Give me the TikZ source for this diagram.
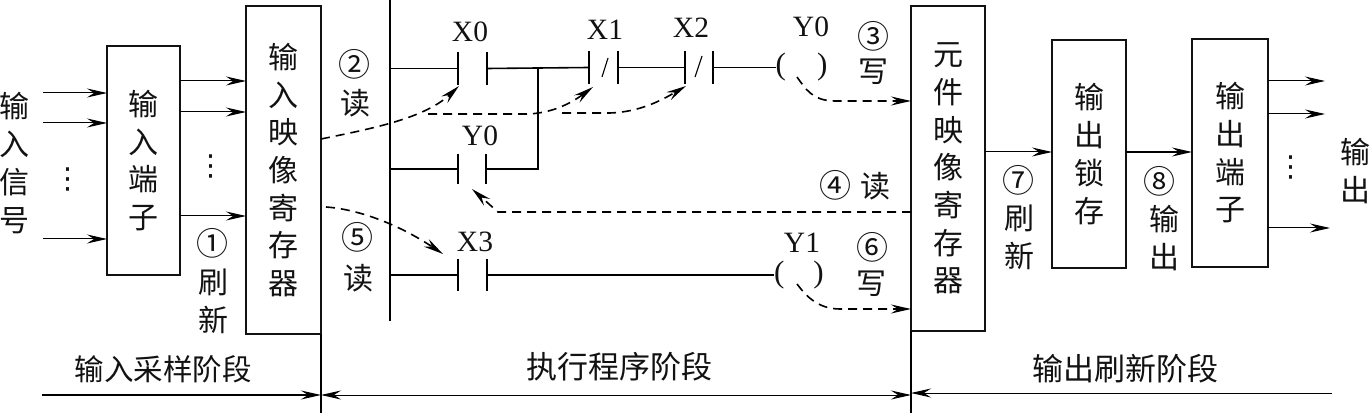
\documentclass[tikz,border=0pt]{standalone}
\usepackage{fontspec}
\setmainfont{Liberation Serif}
\newfontfamily\cjk{Noto Sans CJK SC}
\newfontfamily\circf{DejaVu Sans}
\usetikzlibrary{arrows.meta}
\tikzset{
  every node/.style={inner sep=0pt,outer sep=0pt,text=ink},
  regbox/.style={draw=ink,line width=1.7pt,fill=white,align=center,font=\cjk\fontsize{30}{37.7}\selectfont},
  vtext/.style={align=center,font=\cjk\fontsize{30}{38}\selectfont},
  phase/.style={font=\cjk\fontsize{29.5}{30}\selectfont},
  phasew/.style={font=\cjk\fontsize{31}{32}\selectfont},
  circnum/.style={font=\cjk\fontsize{32}{32}\selectfont},
  lbl/.style={font=\fontsize{29.5}{30}\selectfont},
  dotcol/.style={font=\circf\fontsize{29}{29}\selectfont},
  coil/.style={font=\fontsize{31}{32}\selectfont},
  head/.style={-{Stealth[length=20pt,width=9pt,inset=7pt]}},
  sig/.style={head,line width=1pt},
  sigb/.style={head,line width=1.5pt},
  wire/.style={line width=1.6pt},
  plate/.style={line width=1.6pt},
  flow/.style={head,line width=1.6pt,dash pattern=on 9pt off 6pt},
  rule/.style={line width=1.7pt},
}
\definecolor{ink}{gray}{0.07}
\begin{document}
\begin{tikzpicture}[x=1pt,y=-1pt]
\useasboundingbox[fill=white] (0,0) rectangle (1371,414);
% boxes
\node[regbox,minimum width=73pt,minimum height=229pt] (inport) at (143.5,160.5) {输\\入\\端\\子};
\node[regbox,minimum width=75pt,minimum height=328pt] (inreg) at (283.5,170) {输\\入\\映\\像\\寄\\存\\器};
\node[regbox,minimum width=74pt,minimum height=325pt] (outreg) at (948,168.5) {元\\件\\映\\像\\寄\\存\\器};
\node[regbox,minimum width=74pt,minimum height=228pt] (latch) at (1089,154) {输\\出\\锁\\存};
\node[regbox,minimum width=76pt,minimum height=228pt] (outport) at (1230,153) {输\\出\\端\\子};
% free text
\node[vtext] (insig) at (14,163) {输\\入\\信\\号};
\node[vtext] (outsig) at (1355,171) {输\\出};
\node[dotcol] (d1) at (68,179) {⋮};
\node[dotcol] (d2) at (211,166) {⋮};
\node[dotcol] (d3) at (1291,167) {⋮};
% input arrows
\foreach \n/\y in {a/93,b/123,c/239}{
  \coordinate (i\n) at (43,\y);
  \draw[sig] (i\n) -- (inport.west |- i\n);
}
\foreach \n/\y in {a/81,b/112,c/216}{
  \coordinate (j\n) at (inport.east |- 0,\y);
  \draw[sig] (j\n) -- (inreg.west |- j\n);
}
\coordinate (k) at (outreg.east |- 0,152);
\draw[sig] (k) -- (latch.west |- k);
\coordinate (l) at (latch.east |- 0,152);
\draw[sigb] (l) -- (outport.west |- l);
\foreach \n/\y/\e in {a/81/1325,b/114/1325,c/228/1330}{
  \coordinate (m\n) at (outport.east |- 0,\y);
  \coordinate (n\n) at (\e,\y);
  \draw[sig] (m\n) -- (n\n);
}
% numbered labels
\node[circnum] (c1) at (212,243) {①};
\node[vtext] (t1) at (213,301) {刷\\新};
\node[circnum] (c2) at (354,64) {②};
\node[vtext] (t2) at (355,103) {读};
\node[circnum] (c3) at (873,36) {③};
\node[vtext] (t3) at (873,72) {写};
\node[circnum] (c4) at (835,185) {④};
\node[vtext] (t4) at (875,186) {读};
\node[circnum] (c5) at (357,237) {⑤};
\node[vtext] (t5) at (358,278) {读};
\node[circnum] (c6) at (872,247) {⑥};
\node[vtext] (t6) at (871,284) {写};
\node[circnum] (c7) at (1018,180) {⑦};
\node[vtext] (t7) at (1019,237) {刷\\新};
\node[circnum] (c8) at (1159,181) {⑧};
\node[vtext] (t8) at (1164,238) {输\\出};
% ladder
\coordinate (busT) at (390,0);
\coordinate (busB) at (390,321);
\draw[wire] (busT) -- (busB);
\node[lbl] (lx0) at (470,32) {X0};
\node[lbl] (lx1) at (605,30) {X1};
\node[lbl] (lx2) at (691,28) {X2};
\node[lbl] (ly0) at (811,27) {Y0};
\node[lbl] (ly0b) at (480,136) {Y0};
\node[lbl] (lx3) at (475,242) {X3};
\node[lbl] (ly1) at (802,243) {Y1};
\node[coil] (coil0) at (801.5,67.5) {(\hspace{31pt})};
\node[coil] (coil1) at (799,275) {(\hspace{29pt})};
% plates
\foreach \n/\x/\a/\b in {x0l/458/52/85,x0r/487/52/85,x1l/589/51/84,x1r/618/51/84,x2l/685/51/84,x2r/713/51/84,y0l/458/154/184,y0r/486/154/184,x3l/458/259/291,x3r/487/259/291}{
  \coordinate (\n) at (\x,{(\a+\b)/2});
  \draw[plate] (\x,\a) -- (\x,\b);
}
\draw[wire] (busT |- x0l) -- (x0l);
\draw[wire] (x0r) -- (x1l);
\draw[wire] (x1r) -- (x2l);
\draw[wire] (x2r) -- (coil0.west);
\draw[wire] (busT |- y0l) -- (y0l);
\coordinate (jn) at (538,68.5);
\draw[wire] (y0r) -| (jn);
\draw[wire] (busT |- x3l) -- (x3l);
\draw[wire] (x3r) -- (coil1.west);
% normally-closed slashes
\draw[line width=1.1pt] (602,77) -- (608,58);
\draw[line width=1.1pt] (695,77) -- (702,56);
% dashed data flow
\coordinate (fa) at (inreg.east |- 0,139);
\coordinate (fat) at (459,86);
\draw[flow] (fa) .. controls (375,128) and (425,118) .. (fat);
\coordinate (fb) at (428,114);
\coordinate (fbt) at (593,87);
\draw[flow] (fb) -- (525,114) .. controls (550,114) and (570,104) .. (fbt);
\coordinate (fc) at (562,113);
\coordinate (fct) at (686,86);
\draw[flow] (fc) -- (610,113) .. controls (640,112) and (662,100) .. (fct);
\coordinate (fd) at (797,77);
\draw[flow] (fd) .. controls (805,88) and (812,101) .. (835,101) -- (outreg.west |- 0,101);
\coordinate (fe) at (outreg.west |- 0,212);
\coordinate (fem) at (498,212);
\coordinate (fet) at (472,189);
\draw[flow] (fe) -- (fem) -- (fet);
\coordinate (ff) at (326,207);
\coordinate (fft) at (443,254);
\draw[flow] (ff) .. controls (355,209) and (395,222) .. (fft);
\coordinate (fg) at (797,284);
\draw[flow] (fg) .. controls (806,296) and (818,309) .. (840,309) -- (outreg.west |- 0,309);
% phase dividers and arrows
\coordinate (div1) at (inreg.south east);
\coordinate (div1b) at (321,413);
\coordinate (div2) at (outreg.south west);
\coordinate (div2b) at (911,413);
\draw[rule] (div1) -- (div1b);
\draw[rule] (div2) -- (div2b);
\coordinate (pa) at (42,395);
\draw[sigb] (pa) -- (div1b |- pa);
\coordinate (pb) at (1332,393);
\draw[sig] (pb) -- (div2b |- pb);
\coordinate (pc) at (616,395);
\draw[sig,{Stealth[length=20pt,width=9pt,inset=7pt]}-{Stealth[length=20pt,width=9pt,inset=7pt]}] (div1b |- pc) -- (div2b |- pc);
\node[phase] (ph1) at (163,369) {输入采样阶段};
\node[phasew] (ph2) at (619,367) {执行程序阶段};
\node[phasew] (ph3) at (1125,369) {输出刷新阶段};
\end{tikzpicture}
\end{document}
